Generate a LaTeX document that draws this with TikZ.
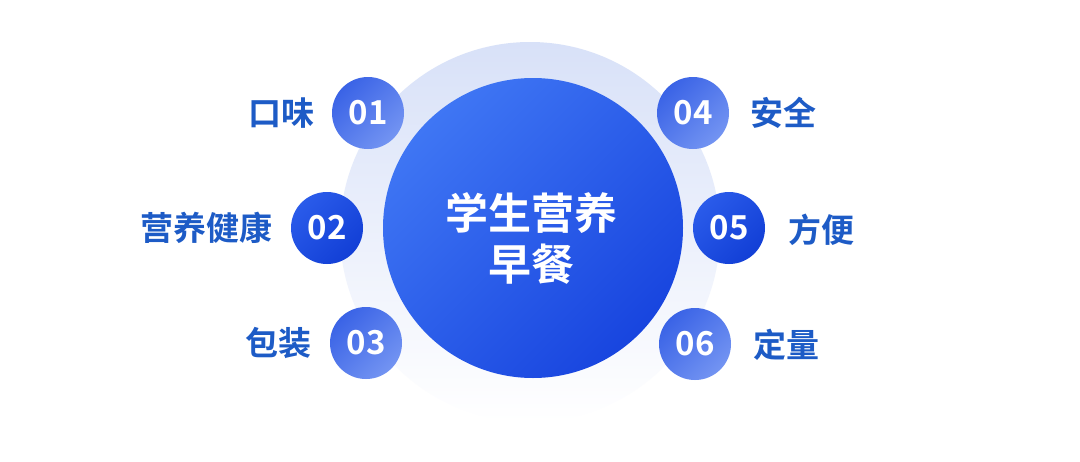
\documentclass[tikz,border=0pt]{standalone}
\usepackage{fontspec}
\newfontfamily\cjk{Noto Sans CJK SC}[BoldFont={Noto Sans CJK SC Bold}]
\begin{document}
\begin{tikzpicture}[x=1pt,y=-1pt,
  halo/.style={circle, minimum size=380pt, inner sep=0pt, top color=haloc, bottom color=white, shading angle=0},
  hub/.style={circle, minimum size=300pt, inner sep=0pt, top color=hubA, bottom color=hubB, shading angle=45},
  hubtext/.style={text=white, align=center, inner sep=0pt, font=\cjk\bfseries\fontsize{43}{51}\selectfont},
  numlight/.style={circle, minimum size=72pt, inner sep=0pt, top color=numA, bottom color=numB, shading angle=45,
    text=white, font=\cjk\bfseries\fontsize{33}{36}\selectfont},
  numdark/.style={circle, minimum size=72pt, inner sep=0pt, top color=darkA, bottom color=darkB, shading angle=45,
    text=white, font=\cjk\bfseries\fontsize{33}{36}\selectfont},
  lbl/.style={text=lblc, inner sep=0pt, font=\cjk\bfseries\fontsize{33}{36}\selectfont}]
\definecolor{haloc}{HTML}{D8E1F8}
\definecolor{hubA}{HTML}{3F76F4}
\definecolor{hubB}{HTML}{1845DF}
\definecolor{numA}{HTML}{3A63E6}
\definecolor{numB}{HTML}{7394F2}
\definecolor{darkA}{HTML}{2A5BEA}
\definecolor{darkB}{HTML}{123FD6}
\definecolor{lblc}{HTML}{1D5BC6}
\useasboundingbox (0,0) rectangle (1080,461);
\fill[white] (0,0) rectangle (1080,461);
\node[halo] (ring) at (530,232) {};
\node[hub] (core) at (533,228) {};
\node[hubtext] (coretext) at (531,238) {学生营养\\早餐};
\node[numlight] (n1) at (368,113) {01};
\node[numdark]  (n2) at (327,228) {02};
\node[numlight] (n3) at (366,343) {03};
\node[numlight] (n4) at (693,113) {04};
\node[numdark]  (n5) at (729,228) {05};
\node[numlight] (n6) at (695,344) {06};
\node[lbl] (l1) at (281,113) {口味};
\node[lbl] (l2) at (206,228) {营养健康};
\node[lbl] (l3) at (278,343) {包装};
\node[lbl] (l4) at (783,113) {安全};
\node[lbl] (l5) at (821,230) {方便};
\node[lbl] (l6) at (786,345) {定量};
\end{tikzpicture}
\end{document}
